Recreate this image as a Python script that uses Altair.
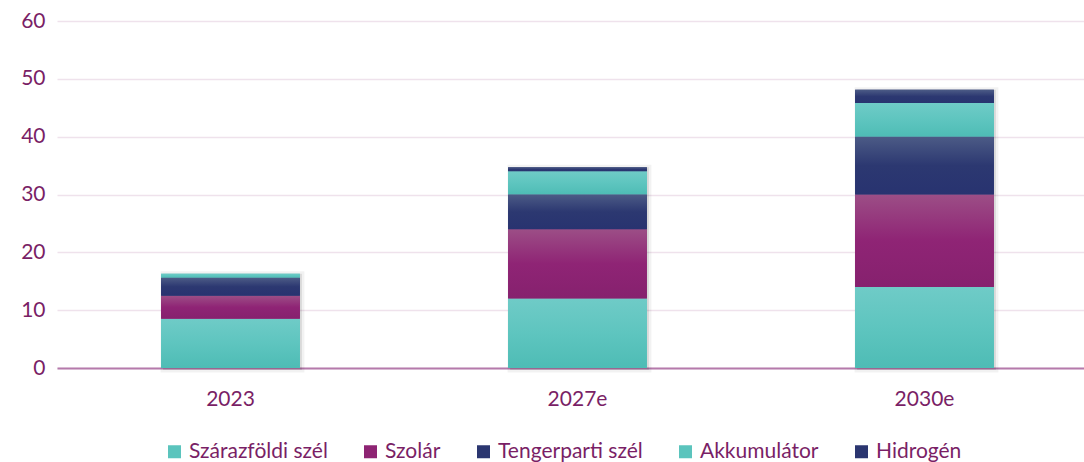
import altair as alt
import pandas as pd

years = ["2023", "2027e", "2030e"]
series = ["Szárazföldi szél", "Szolár", "Tengerparti szél", "Akkumulátor", "Hidrogén"]
szarazfoldi = [8.5, 12.0, 14.0]
szolar = [4.0, 12.0, 16.0]
tengerparti = [3.1, 6.0, 10.0]
akkumulator = [0.7, 4.0, 5.8]
hidrogen = [0.0, 0.7, 2.3]
colors = ["#5BC4BD", "#8E2473", "#2B3670", "#5BC4BD", "#2B3670"]
y_ticks = [0, 10, 20, 30, 40, 50, 60]

values = [szarazfoldi, szolar, tengerparti, akkumulator, hidrogen]
rows = []
for si, (s, vals) in enumerate(zip(series, values)):
    for y, v in zip(years, vals):
        rows.append({"year": y, "series": s, "order": si, "value": v})
df = pd.DataFrame(rows)

FONT = "Lato"
PURPLE = "#7A1F66"

x_enc = alt.X(
    "year:N",
    sort=years,
    title=None,
    scale=alt.Scale(domain=years, range=[0, 1041], paddingInner=0.6, paddingOuter=0.3),
    axis=alt.Axis(labelAngle=0, ticks=False, domainColor="#B57AAB", domainWidth=2,
                  labelPadding=20, labelFontSize=21, labelColor=PURPLE, labelFont=FONT,
                  grid=False),
)
y_scale = alt.Scale(domain=[0, 60], nice=False)
y_axis = alt.Axis(values=y_ticks, domain=False, ticks=False, gridColor="#EFE2EC", gridWidth=1.5,
                  labelPadding=12, labelFontSize=21, labelColor=PURPLE, labelFont=FONT)
y_enc = alt.Y("y0:Q", title=None, scale=y_scale, axis=y_axis)

base = alt.Chart(df).transform_stack(
    stack="value", groupby=["year"], as_=["y0", "y1"], sort=[alt.SortField("order")]
)

shadow = base.transform_filter(
    alt.FieldEqualPredicate(field="series", equal="Hidrogén")
).transform_calculate(zero="0").mark_bar(
    fill="#000000", fillOpacity=0.10, stroke="#000000", strokeOpacity=0.05, strokeWidth=5,
    xOffset=2, yOffset=2,
).encode(x=x_enc, y=alt.Y("zero:Q", title=None, scale=y_scale, axis=y_axis), y2="y1:Q")

flat = base.mark_bar().encode(
    x=x_enc,
    y=y_enc,
    y2="y1:Q",
    color=alt.Color(
        "series:N",
        scale=alt.Scale(domain=series, range=colors),
        legend=alt.Legend(
            title=None, orient="none", direction="horizontal", legendX=107, legendY=420,
            symbolType="square", symbolSize=169, symbolStrokeWidth=0, labelFontSize=21,
            labelColor=PURPLE, labelFont=FONT, columnPadding=32, labelOffset=4,
        ),
    ),
    order=alt.Order("order:Q"),
)


def grad(top, mid, bottom):
    return {
        "gradient": "linear", "x1": 0, "x2": 0, "y1": 0, "y2": 1,
        "stops": [
            {"offset": 0, "color": top},
            {"offset": 0.5, "color": mid},
            {"offset": 1, "color": bottom},
        ],
    }


def overlay(names, g):
    return base.transform_filter(
        alt.FieldOneOfPredicate(field="series", oneOf=names)
    ).mark_bar(fill=g).encode(x=x_enc, y=y_enc, y2="y1:Q")


teal = overlay(["Szárazföldi szél", "Akkumulátor"], grad("#6FCBC7", "#5EC5BF", "#4EBCB5"))
mag = overlay(["Szolár"], grad("#9C4E86", "#8F2475", "#86216E"))
navy = overlay(["Tengerparti szél", "Hidrogén"], grad("#4C5B86", "#2C3871", "#283370"))

chart = alt.layer(shadow, flat, teal, mag, navy).properties(
    width=1027,
    height=347,
    autosize=alt.AutoSizeParams(type="none"),
    padding={"left": 57, "top": 21, "right": 0, "bottom": 94},
    background="white",
).configure_view(stroke=None)

chart.save("out.html", embed_options={"renderer": "svg", "actions": False})
